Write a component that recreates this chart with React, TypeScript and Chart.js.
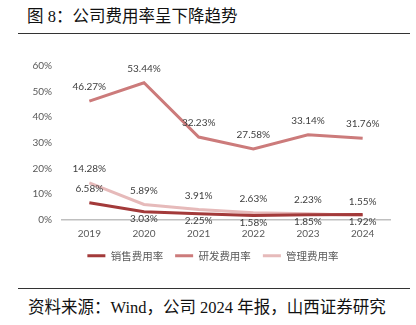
import React, { useEffect, useRef } from 'react';
import { Chart, registerables } from 'chart.js';

Chart.register(...registerables);

const categories = ['2019', '2020', '2021', '2022', '2023', '2024'];
const salesRate = [6.58, 3.03, 2.25, 1.58, 1.85, 1.92];
const rdRate = [46.27, 53.44, 32.23, 27.58, 33.14, 31.76];
const adminRate = [14.28, 5.89, 3.91, 2.63, 2.23, 1.55];
const seriesNames = ['销售费用率', '研发费用率', '管理费用率'];
const yMin = 0;
const yMax = 60;
const yStep = 10;

const salesPlacement = ['above', 'below', 'below', 'below', 'below', 'below'];
const rdPlacement = ['above', 'above', 'above', 'above', 'above', 'above'];
const adminPlacement = ['above', 'above', 'above', 'above', 'above', 'above'];

const valueLabels = {
  id: 'valueLabels',
  afterDatasetsDraw(chart: any) {
    const ctx = chart.ctx;
    ctx.save();
    ctx.font = '10px Lato';
    ctx.fillStyle = '#404040';
    ctx.textAlign = 'center';
    ctx.textBaseline = 'middle';
    chart.data.datasets.forEach((ds: any, i: number) => {
      const meta = chart.getDatasetMeta(i);
      meta.data.forEach((pt: any, j: number) => {
        const v = ds.data[j];
        const dy = ds.labelPlacement[j] === 'below' ? 7 : -14;
        ctx.fillText(v.toFixed(2) + '%', pt.x, pt.y + dy);
      });
    });
    ctx.restore();
  },
};

const legendShift = {
  id: 'legendShift',
  afterLayout(chart: any) {
    const lg = chart.legend;
    if (lg) {
      lg.left += 18;
      lg.right += 18;
    }
  },
};

export default function App() {
  const ref = useRef<HTMLCanvasElement | null>(null);

  useEffect(() => {
    document.body.style.margin = '0';
    if (!ref.current) return;
    const chart = new Chart(ref.current, {
      type: 'line',
      data: {
        labels: categories,
        datasets: [
          {
            label: seriesNames[0],
            data: salesRate,
            borderColor: '#a33a3a',
            backgroundColor: '#a33a3a',
            borderWidth: 3,
            pointRadius: 0,
            tension: 0,
            labelPlacement: salesPlacement,
          } as any,
          {
            label: seriesNames[1],
            data: rdRate,
            borderColor: '#cc7b7b',
            backgroundColor: '#cc7b7b',
            borderWidth: 3,
            pointRadius: 0,
            tension: 0,
            labelPlacement: rdPlacement,
          } as any,
          {
            label: seriesNames[2],
            data: adminRate,
            borderColor: '#e6baba',
            backgroundColor: '#e6baba',
            borderWidth: 3,
            pointRadius: 0,
            tension: 0,
            labelPlacement: adminPlacement,
          } as any,
        ],
      },
      options: {
        animation: false,
        responsive: false,
        maintainAspectRatio: false,
        layout: { padding: { top: 21, right: 26, left: 0, bottom: 0 } },
        plugins: {
          tooltip: { enabled: false },
          legend: {
            position: 'bottom',
            labels: {
              boxWidth: 18,
              boxHeight: 3,
              padding: 12,
              color: '#595959',
              font: { size: 10.5, family: '"Noto Sans CJK SC"' },
              generateLabels: (chart: any) => {
                const base = Chart.defaults.plugins.legend.labels.generateLabels(chart);
                return base.map((l: any) => ({ ...l, lineWidth: 0, strokeStyle: 'rgba(0,0,0,0)' }));
              },
            },
          },
        },
        scales: {
          x: {
            offset: true,
            grid: { display: false, drawTicks: false, offset: true },
            border: { display: true, color: '#bfbfbf', width: 1.5 },
            ticks: { color: '#595959', font: { size: 10, family: 'Lato' }, padding: 8 },
            afterFit: (s: any) => { s.height = 19; },
          },
          y: {
            min: yMin,
            max: yMax,
            grid: { display: false, drawTicks: false },
            border: { display: false },
            ticks: {
              stepSize: yStep,
              color: '#595959',
              font: { size: 10, family: 'Lato' },
              padding: 10,
              callback: (v: any) => v + '%',
            },
            afterFit: (s: any) => { s.width = 62; },
          },
        },
      },
      plugins: [valueLabels, legendShift],
    });
    return () => chart.destroy();
  }, []);

  const textFont = '"Liberation Serif", "Noto Sans CJK SC", serif';

  return (
    <div style={{ position: 'relative', width: 416, height: 325, background: '#fff', overflow: 'hidden' }}>
      <div style={{ position: 'absolute', left: 27, top: 7, fontSize: 16.5, lineHeight: '20px', color: '#111', fontFamily: textFont, whiteSpace: 'nowrap' }}>
        图 8：公司费用率呈下降趋势
      </div>
      <div style={{ position: 'absolute', left: 18, top: 33, width: 392, height: 1, background: '#333' }} />
      <canvas ref={ref} width={416} height={226} style={{ position: 'absolute', left: 0, top: 45, width: 416, height: 226 }} />
      <div style={{ position: 'absolute', left: 18, top: 288, width: 392, height: 1, background: '#333' }} />
      <div style={{ position: 'absolute', left: 28, top: 298, fontSize: 16.5, lineHeight: '20px', color: '#111', fontFamily: textFont, whiteSpace: 'nowrap' }}>
        资料来源：Wind，公司 2024 年报，山西证券研究
      </div>
    </div>
  );
}
